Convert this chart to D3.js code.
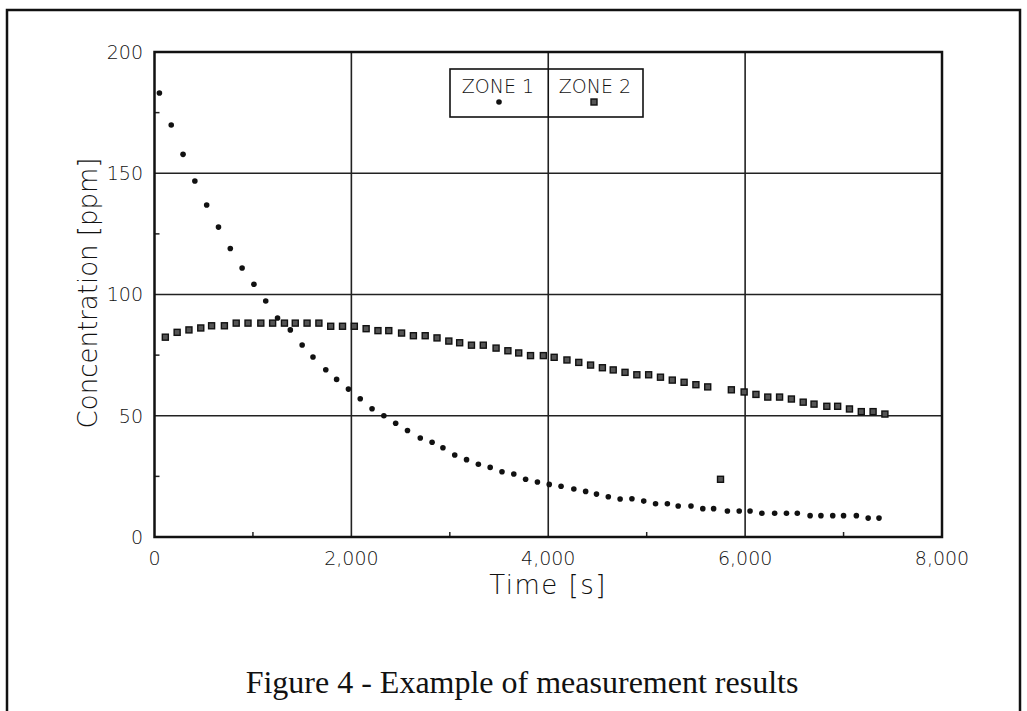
<!DOCTYPE html>
<html>
<head>
<meta charset="utf-8">
<script src="https://cdn.jsdelivr.net/npm/d3@7"></script>
<style>
  body { margin: 0; background: #fff; }
  svg { display: block; }
  .tick-label { font-family: "DejaVu Sans", sans-serif; font-weight: 200; font-size: 19px; fill: #111; }
  .axis-title { font-family: "DejaVu Sans", sans-serif; font-weight: 200; font-size: 26px; fill: #111; }
  .caption { font-family: "Liberation Serif", "Times New Roman", serif; font-size: 32px; fill: #111; }
</style>
</head>
<body>
<svg id="chart" width="1027" height="711"></svg>
<script>
// measured values (time in s, concentration in ppm)
let zone1Time = [50,170,290,410,530,650,770,890,1010,1130,1250,1380,1500,1610,1740,1850,1970,2090,2210,2330,
  2450,2570,2700,2820,2930,3050,3170,3290,3410,3530,3650,3770,3890,4010,4130,4260,4380,4490,4610,4730,
  4850,4970,5090,5210,5320,5450,5570,5680,5820,5940,6050,6170,6300,6420,6530,6660,6770,6890,7000,7130,7250,7360];
let zone1Conc = [183.1,169.9,157.8,146.8,136.9,127.8,119.0,110.9,104.2,97.3,90.3,85.4,79.2,74.2,69.0,65.0,61.0,57.0,52.9,50.0,
  46.9,43.9,40.8,39.1,36.8,33.8,31.9,30.0,28.7,26.9,26.0,23.8,22.7,21.7,20.9,19.8,18.8,17.7,16.6,15.7,
  15.8,14.8,13.7,13.7,12.8,12.8,11.7,11.7,10.7,10.7,10.7,9.8,9.8,9.8,9.8,8.8,8.8,8.8,8.8,8.8,7.8,7.8];

let zone2Time = [110,230,350,470,580,710,830,950,1080,1200,1320,1430,1550,1670,1790,1910,2030,2150,2270,2380,
  2510,2630,2750,2870,2990,3100,3220,3340,3470,3590,3700,3820,3950,4060,4190,4310,4430,4550,4660,4780,
  4900,5020,5140,5260,5380,5500,5620,5750,5860,5990,6110,6230,6350,6470,6590,6700,6830,6940,7060,7180,7300,7420];
let zone2Conc = [82.4,84.4,85.4,86.2,87.1,87.1,88.2,88.2,88.2,88.2,88.2,88.2,88.2,88.2,86.9,86.9,86.9,85.9,85.1,85.1,
  84.1,83.0,83.0,82.1,80.8,80.1,79.1,79.1,77.9,76.8,75.9,74.8,74.8,74.1,73.0,72.0,70.9,69.8,68.9,67.9,
  66.9,66.9,65.9,64.7,63.8,62.8,61.9,23.8,60.7,59.8,58.8,57.7,57.7,56.9,55.6,54.8,53.9,53.9,52.8,51.7,51.7,50.7];

let xTicks = [0, 2000, 4000, 6000, 8000];
let xMinorTicks = [1000, 3000, 5000, 7000];
let yTicks = [0, 50, 100, 150, 200];
let yMinorTicks = [25, 75, 125, 175];
let legendLabels = ["ZONE 1", "ZONE 2"];

let svg = d3.select("#chart");

// page frame
svg.append("rect")
  .attr("x", 7).attr("y", 10)
  .attr("width", 1013).attr("height", 720)
  .attr("fill", "none").attr("stroke", "#111").attr("stroke-width", 2.5);

let plotLeft = 154.5, plotRight = 942, plotTop = 52, plotBottom = 537;

let x = d3.scaleLinear().domain([0, 8000]).range([plotLeft, plotRight]);
let y = d3.scaleLinear().domain([0, 200]).range([plotBottom, plotTop]);

// grid lines
svg.append("g").selectAll("line")
  .data(xTicks.slice(1, -1))
  .enter().append("line")
  .attr("x1", d => x(d)).attr("x2", d => x(d))
  .attr("y1", plotTop).attr("y2", plotBottom)
  .attr("stroke", "#222").attr("stroke-width", 1.6);

svg.append("g").selectAll("line")
  .data(yTicks.slice(1, -1))
  .enter().append("line")
  .attr("x1", plotLeft).attr("x2", plotRight)
  .attr("y1", d => y(d)).attr("y2", d => y(d))
  .attr("stroke", "#222").attr("stroke-width", 1.6);

// minor ticks
svg.append("g").selectAll("line")
  .data(xMinorTicks)
  .enter().append("line")
  .attr("x1", d => x(d)).attr("x2", d => x(d))
  .attr("y1", plotBottom).attr("y2", plotBottom - 5)
  .attr("stroke", "#222").attr("stroke-width", 1.5);

svg.append("g").selectAll("line")
  .data(yMinorTicks)
  .enter().append("line")
  .attr("x1", plotLeft).attr("x2", plotLeft + 5)
  .attr("y1", d => y(d)).attr("y2", d => y(d))
  .attr("stroke", "#222").attr("stroke-width", 1.5);

// plot frame
svg.append("rect")
  .attr("x", plotLeft).attr("y", plotTop)
  .attr("width", plotRight - plotLeft).attr("height", plotBottom - plotTop)
  .attr("fill", "none").attr("stroke", "#111").attr("stroke-width", 2.5);

// tick labels
svg.append("g").selectAll("text")
  .data(xTicks)
  .enter().append("text")
  .attr("class", "tick-label")
  .attr("x", d => x(d)).attr("y", 565)
  .attr("text-anchor", "middle")
  .text(d => d3.format(",")(d));

svg.append("g").selectAll("text")
  .data(yTicks)
  .enter().append("text")
  .attr("class", "tick-label")
  .attr("x", 143).attr("y", d => y(d))
  .attr("dy", "0.36em")
  .attr("text-anchor", "end")
  .text(d => d);

// axis titles
svg.append("text")
  .attr("class", "axis-title")
  .attr("x", 548).attr("y", 594)
  .attr("text-anchor", "middle")
  .attr("letter-spacing", 1.5)
  .text("Time [s]");

svg.append("text")
  .attr("class", "axis-title")
  .attr("transform", "translate(97,293) rotate(-90)")
  .attr("text-anchor", "middle")
  .attr("font-size", 27)
  .text("Concentration [ppm]");

// zone 1 points
svg.append("g").selectAll("circle")
  .data(zone1Time)
  .enter().append("circle")
  .attr("cx", d => x(d))
  .attr("cy", (d, i) => y(zone1Conc[i]))
  .attr("r", 2.8)
  .attr("fill", "#111");

// zone 2 points
svg.append("g").selectAll("rect")
  .data(zone2Time)
  .enter().append("rect")
  .attr("x", d => x(d) - 3)
  .attr("y", (d, i) => y(zone2Conc[i]) - 3)
  .attr("width", 6).attr("height", 6)
  .attr("fill", "#555")
  .attr("stroke", "#111").attr("stroke-width", 1.4);

// legend
let legend = svg.append("g");
legend.append("rect")
  .attr("x", 450).attr("y", 69)
  .attr("width", 193).attr("height", 48)
  .attr("fill", "#fff").attr("stroke", "#111").attr("stroke-width", 1.6);
legend.append("line")
  .attr("x1", x(4000)).attr("x2", x(4000))
  .attr("y1", 69).attr("y2", 117)
  .attr("stroke", "#111").attr("stroke-width", 1.6);

let legendX = [498, 595];
legend.selectAll("text")
  .data(legendLabels)
  .enter().append("text")
  .attr("class", "tick-label")
  .attr("x", (d, i) => legendX[i]).attr("y", 93)
  .attr("text-anchor", "middle")
  .text(d => d);

legend.append("circle")
  .attr("cx", 499).attr("cy", 102).attr("r", 2.8).attr("fill", "#111");
legend.append("rect")
  .attr("x", 591).attr("y", 99).attr("width", 6).attr("height", 6)
  .attr("fill", "#555").attr("stroke", "#111").attr("stroke-width", 1.4);

// caption
svg.append("text")
  .attr("class", "caption")
  .attr("x", 522).attr("y", 693)
  .attr("text-anchor", "middle")
  .text("Figure 4 - Example of measurement results");
</script>
</body>
</html>
